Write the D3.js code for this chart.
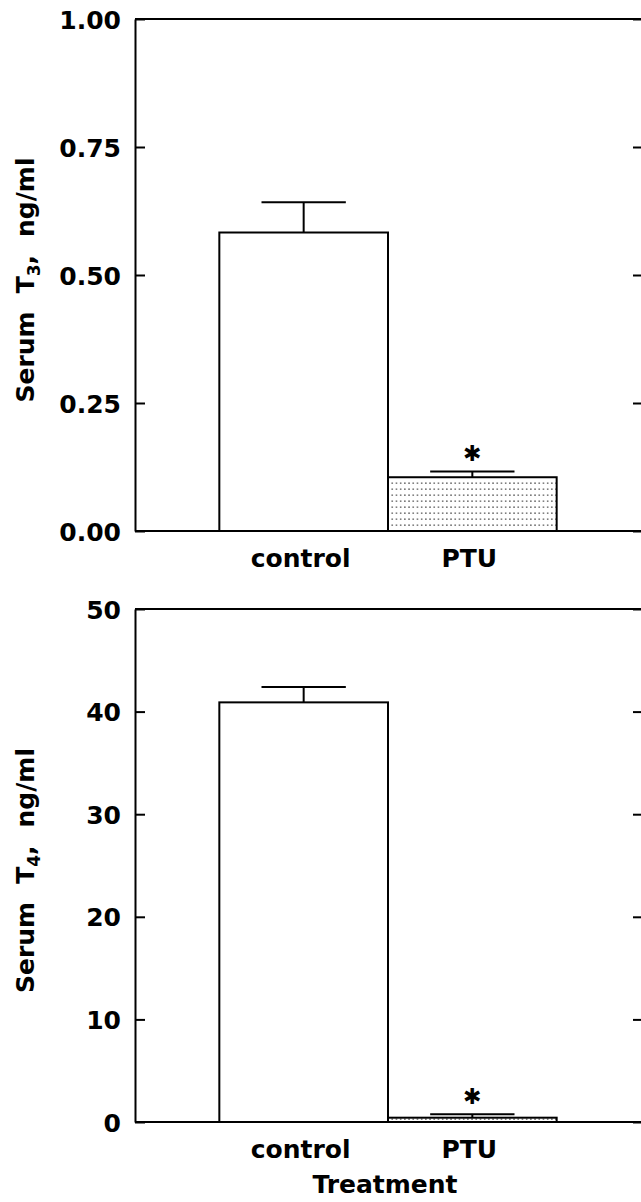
<!DOCTYPE html>
<meta charset="utf-8">
<head>
<style>
body { margin: 0; background: #fff; }
text { font-family: "DejaVu Sans", sans-serif; font-weight: bold; fill: #000; }
</style>
</head>
<script src="https://d3js.org/d3.v7.min.js"></script>
<div id="chart"></div>
<script>

// data
var groups = ["control", "PTU"];
var t3Mean = [0.583, 0.105];
var t3Err = [0.059, 0.011];
var t4Mean = [40.9, 0.42];
var t4Err = [1.5, 0.33];
var t3Ticks = [0, 0.25, 0.5, 0.75, 1.0];
var t4Ticks = [0, 10, 20, 30, 40, 50];
var starred = [false, true];

var W = 641, H = 1202;
var left = 135, right = 643;

var svg = d3.select("#chart")
  .append("svg")
    .attr("width", W)
    .attr("height", H);

// dotted fill for the PTU bar
var pat = svg.append("defs").append("pattern")
  .attr("id", "dots")
  .attr("patternUnits", "userSpaceOnUse")
  .attr("width", 4.2)
  .attr("height", 6)
pat.append("rect")
  .attr("width", 4.2).attr("height", 6).attr("fill", "#fff")
pat.append("rect")
  .attr("x", 1).attr("y", 2.5)
  .attr("width", 1.3).attr("height", 1.3)
  .attr("fill", "#333")

var x = d3.scaleBand()
  .domain(groups)
  .range([left, right - 2])
  .paddingInner(0)
  .paddingOuter(0.5);

function panel(top, bottom, mean, err, ticks, fmt, sub, showTitle) {
  var y = d3.scaleLinear()
    .domain([ticks[0], ticks[ticks.length - 1]])
    .range([bottom, top]);

  var g = svg.append("g");

  // frame: top line and baseline
  g.append("line")
    .attr("x1", left).attr("x2", right)
    .attr("y1", y(ticks[ticks.length - 1])).attr("y2", y(ticks[ticks.length - 1]))
    .attr("stroke", "#000").attr("stroke-width", 2)
  g.append("line")
    .attr("x1", left).attr("x2", right)
    .attr("y1", y(0)).attr("y2", y(0))
    .attr("stroke", "#000").attr("stroke-width", 2)

  // left axis, ticks pointing inward
  var yAxis = g.append("g")
    .attr("transform", "translate(" + left + ",0)")
    .call(d3.axisLeft(y).tickValues(ticks).tickFormat(fmt).tickSizeInner(-10).tickSizeOuter(0).tickPadding(14))
  yAxis.select(".domain").attr("stroke-width", 2)
  yAxis.selectAll(".tick line").attr("stroke-width", 2)
  yAxis.selectAll("text")
    .style("font-size", "25px")
    .attr("dy", "0.36em")

  // right axis (runs off the page), ticks only
  var rAxis = g.append("g")
    .attr("transform", "translate(" + right + ",0)")
    .call(d3.axisRight(y).tickValues(ticks).tickFormat("").tickSizeInner(-10).tickSizeOuter(0))
  rAxis.select(".domain").attr("stroke-width", 2)
  rAxis.selectAll(".tick line").attr("stroke-width", 2)

  // bars
  g.selectAll("rect.bar")
    .data(groups)
    .enter()
    .append("rect")
      .attr("class", "bar")
      .attr("x", function(d) { return x(d); })
      .attr("y", function(d, i) { return y(mean[i]); })
      .attr("width", x.bandwidth())
      .attr("height", function(d, i) { return y(0) - y(mean[i]); })
      .attr("fill", function(d, i) { return i == 1 ? "url(#dots)" : "#fff"; })
      .attr("stroke", "#000")
      .attr("stroke-width", 2)

  // error bars (upper only)
  var cap = x.bandwidth() * 0.25;
  groups.forEach(function(d, i) {
    var cx = x(d) + x.bandwidth() / 2;
    g.append("line")
      .attr("x1", cx).attr("x2", cx)
      .attr("y1", y(mean[i])).attr("y2", y(mean[i] + err[i]))
      .attr("stroke", "#000").attr("stroke-width", 2)
    g.append("line")
      .attr("x1", cx - cap).attr("x2", cx + cap)
      .attr("y1", y(mean[i] + err[i])).attr("y2", y(mean[i] + err[i]))
      .attr("stroke", "#000").attr("stroke-width", 2)
    if (starred[i]) {
      g.append("text")
        .attr("x", cx)
        .attr("y", y(mean[i] + err[i]) - 18)
        .attr("text-anchor", "middle")
        .attr("dominant-baseline", "central")
        .style("font-size", "22px")
        .text("\u2731")
    }
  })

  // category labels
  g.selectAll("text.cat")
    .data(groups)
    .enter()
    .append("text")
      .attr("class", "cat")
      .attr("x", function(d) { return x(d) + x.bandwidth() / 2 - 3; })
      .attr("y", y(0) + 36)
      .attr("text-anchor", "middle")
      .style("font-size", "25px")
      .text(function(d) { return d; })

  // y label with subscript
  var lab = g.append("text")
    .attr("transform", "translate(34," + ((top + bottom) / 2 + 5) + ")rotate(-90)")
    .attr("text-anchor", "middle")
    .style("font-size", "25px")
  lab.append("tspan").text("Serum")
  lab.append("tspan").attr("dx", 18).text("T")
  lab.append("tspan").attr("dy", 6).style("font-size", "17px").text(sub)
  lab.append("tspan").attr("dy", -6).text(",")
  lab.append("tspan").attr("dx", 18).text("ng/ml")

  if (showTitle) {
    g.append("text")
      .attr("x", (left + right) / 2 - 4)
      .attr("y", y(0) + 71)
      .attr("text-anchor", "middle")
      .style("font-size", "25px")
      .text("Treatment")
  }
}

panel(19, 531, t3Mean, t3Err, t3Ticks, d3.format(".2f"), "3", false);
panel(609, 1122, t4Mean, t4Err, t4Ticks, d3.format("d"), "4", true);

</script>
